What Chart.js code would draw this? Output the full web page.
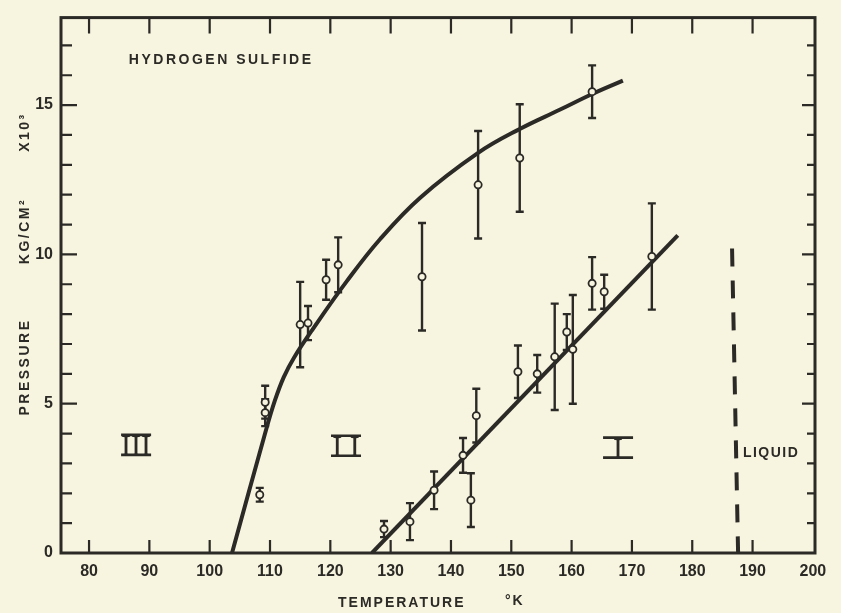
<!DOCTYPE html>
<html>
<head>
<meta charset="utf-8">
<script src="https://cdn.jsdelivr.net/npm/chart.js@4.4.1/dist/chart.umd.min.js"></script>
<style>
html,body{margin:0;padding:0;background:#f7f4df;}
#wrap{width:841px;height:613px;}
</style>
</head>
<body>
<div id="wrap"><canvas id="c" width="841" height="613"></canvas></div>
<script>
// measured points, III -> II transition (temperature K, pressure x10^3 kg/cm2, error)
var t32 = [108.3, 109.2, 109.2, 115.0, 116.3, 119.3, 121.3, 135.2, 144.5, 151.4, 163.4];
var p32 = [1.95, 5.05, 4.7, 7.65, 7.7, 9.15, 9.65, 9.25, 12.33, 13.23, 15.45];
var e32 = [0.23, 0.55, 0.45, 1.43, 0.57, 0.67, 0.92, 1.8, 1.8, 1.8, 0.88];

// measured points, II -> I transition
var t21 = [128.9, 133.2, 137.2, 142.0, 143.3, 144.2, 151.1, 154.3, 157.2, 159.2, 160.2, 163.4, 165.4, 173.3];
var p21 = [0.8, 1.05, 2.1, 3.27, 1.77, 4.6, 6.07, 6.0, 6.57, 7.4, 6.82, 9.03, 8.75, 9.93];
var e21 = [0.27, 0.62, 0.63, 0.58, 0.9, 0.9, 0.88, 0.63, 1.78, 0.6, 1.82, 0.88, 0.57, 1.78];

// drawn curve III-II
var curveT = [103.7, 109.2, 110.8, 112.3, 114.0, 117.1, 122.8, 128.2, 134.9, 144.5, 151.4, 158.1, 163.5, 168.5];
var curveP = [0, 4.02, 5.1, 5.9, 6.55, 7.5, 9.12, 10.5, 11.9, 13.4, 14.2, 14.85, 15.38, 15.82];

// drawn line II-I
var lineT = [126.9, 177.6];
var lineP = [0, 10.64];

// melting boundary (dashed)
var meltT = [186.6, 187.6];
var meltP = [10.2, 0];

var xTicks = [80, 90, 100, 110, 120, 130, 140, 150, 160, 170, 180, 190, 200];
var yTicks = [0, 1, 2, 3, 4, 5, 6, 7, 8, 9, 10, 11, 12, 13, 14, 15, 16, 17];

var paper = '#f7f4df';
var ink = '#2b2a26';

function pts(a, b) {
	var out = [];
	for (var i = 0; i < a.length; i++) out.push({x: a[i], y: b[i]});
	return out;
}

var decor = {
	id: 'decor',
	beforeDraw: function(chart) {
		var ctx = chart.ctx;
		ctx.save();
		ctx.fillStyle = paper;
		ctx.fillRect(0, 0, chart.width, chart.height);
		ctx.restore();
	},
	beforeDatasetsDraw: function(chart) {
		//error bars -start
		var ctx = chart.ctx, xs = chart.scales.x, ys = chart.scales.y;
		ctx.save();
		ctx.strokeStyle = ink;
		ctx.lineWidth = 2.4;
		var groups = [[t32, p32, e32], [t21, p21, e21]];
		groups.forEach(function(g) {
			for (var i = 0; i < g[0].length; i++) {
				var x = xs.getPixelForValue(g[0][i]);
				var y1 = ys.getPixelForValue(g[1][i] - g[2][i]);
				var y2 = ys.getPixelForValue(g[1][i] + g[2][i]);
				ctx.beginPath();
				ctx.moveTo(x, y1); ctx.lineTo(x, y2);
				ctx.moveTo(x - 4, y1); ctx.lineTo(x + 4, y1);
				ctx.moveTo(x - 4, y2); ctx.lineTo(x + 4, y2);
				ctx.stroke();
			}
		});
		ctx.restore();
		//error bars -end
	},
	afterDraw: function(chart) {
		var ctx = chart.ctx, a = chart.chartArea, xs = chart.scales.x, ys = chart.scales.y;
		ctx.save();
		ctx.strokeStyle = ink;
		ctx.fillStyle = ink;
		ctx.lineWidth = 3;
		ctx.strokeRect(a.left, a.top, a.right - a.left, a.bottom - a.top);

		// inward ticks
		ctx.lineWidth = 2.2;
		ctx.beginPath();
		xTicks.forEach(function(v) {
			if (v >= 200) return;
			var x = xs.getPixelForValue(v);
			ctx.moveTo(x, a.bottom); ctx.lineTo(x, a.bottom - 13);
			ctx.moveTo(x, a.top); ctx.lineTo(x, a.top + 16);
		});
		yTicks.forEach(function(v) {
			if (v == 0) return;
			var y = ys.getPixelForValue(v);
			var major = v % 5 == 0;
			ctx.moveTo(a.left, y); ctx.lineTo(a.left + (major ? 16 : 11), y);
			ctx.moveTo(a.right, y); ctx.lineTo(a.right - (major ? 13 : 8), y);
		});
		ctx.stroke();

		// labels inside the plot
		ctx.font = 'bold 14px "Liberation Sans"';
		ctx.textBaseline = 'middle';
		ctx.letterSpacing = '2.5px';
		ctx.textAlign = 'left';
		ctx.fillText('HYDROGEN SULFIDE', xs.getPixelForValue(86.6), ys.getPixelForValue(16.5));
		ctx.letterSpacing = '1.5px';
		ctx.fillText('LIQUID', xs.getPixelForValue(188.4), ys.getPixelForValue(3.36));

		// phase numerals
		var phases = [['III', 87.8, 3.62], ['I I', 122.6, 3.59], ['I', 167.7, 3.53]];
		ctx.letterSpacing = '0px';
		ctx.font = '30px "Liberation Serif"';
		ctx.textAlign = 'center';
		ctx.textBaseline = 'alphabetic';
		ctx.lineWidth = 2.6;
		phases.forEach(function(ph) {
			var x = xs.getPixelForValue(ph[1]), y = ys.getPixelForValue(ph[2]);
			ctx.fillText(ph[0], x, y + 10);
			ctx.beginPath();
			ctx.moveTo(x - 15, y - 10); ctx.lineTo(x + 15, y - 10);
			ctx.moveTo(x - 15, y + 10); ctx.lineTo(x + 15, y + 10);
			ctx.stroke();
		});

		// axis titles
		ctx.font = 'bold 14px "Liberation Sans"';
		ctx.textBaseline = 'middle';
		ctx.letterSpacing = '2px';
		ctx.textAlign = 'left';
		ctx.fillText('TEMPERATURE', 338, 603);
		ctx.fillText('\u00B0K', 505, 601);

		ctx.letterSpacing = '2.5px';
		ctx.translate(25, 0);
		ctx.rotate(-Math.PI / 2);
		ctx.textAlign = 'center';
		ctx.fillText('PRESSURE', -367, 0);
		ctx.fillText('KG/CM\u00B2', -231, 0);
		ctx.fillText('X10\u00B3', -132, 0);
		ctx.restore();
	}
};

$chart = new Chart(document.getElementById('c'), {
	type: 'scatter',
	data: {
		datasets: [
			{
				label: 'III-II points',
				data: pts(t32, p32),
				pointRadius: 3.6,
				pointBackgroundColor: paper,
				pointBorderColor: ink,
				pointBorderWidth: 1.8
			},
			{
				label: 'II-I points',
				data: pts(t21, p21),
				pointRadius: 3.6,
				pointBackgroundColor: paper,
				pointBorderColor: ink,
				pointBorderWidth: 1.8
			},
			{
				label: 'III-II boundary',
				data: pts(curveT, curveP),
				showLine: true,
				tension: 0.4,
				borderColor: ink,
				borderWidth: 4,
				pointRadius: 0
			},
			{
				label: 'II-I boundary',
				data: pts(lineT, lineP),
				showLine: true,
				borderColor: ink,
				borderWidth: 4,
				pointRadius: 0
			},
			{
				label: 'melting',
				data: pts(meltT, meltP),
				showLine: true,
				borderColor: ink,
				borderWidth: 4,
				borderDash: [18, 14],
				pointRadius: 0
			}
		]
	},
	options: {
		responsive: false,
		animation: false,
		layout: { padding: { left: 0, top: 14, right: 26, bottom: 0 } },
		plugins: { legend: { display: false }, tooltip: { enabled: false } },
		scales: {
			x: {
				type: 'linear',
				min: 75.35,
				max: 200.35,
				grid: { display: false, drawTicks: false },
				border: { display: false },
				afterBuildTicks: function(scale) {
					scale.ticks = xTicks.map(function(v) { return { value: v }; });
				},
				afterFit: function(scale) { scale.height = 60; },
				ticks: {
					color: ink,
					padding: 9,
					maxRotation: 0,
					font: { family: 'Liberation Sans', size: 16, weight: 'bold' }
				}
			},
			y: {
				type: 'linear',
				min: 0,
				max: 17.93,
				grid: { display: false, drawTicks: false },
				border: { display: false },
				afterBuildTicks: function(scale) {
					scale.ticks = yTicks.map(function(v) { return { value: v }; });
				},
				afterFit: function(scale) { scale.width = 61; },
				ticks: {
					color: ink,
					padding: 8,
					font: { family: 'Liberation Sans', size: 16, weight: 'bold' },
					callback: function(v) { return v % 5 == 0 ? v : ''; }
				}
			}
		}
	},
	plugins: [decor]
});
</script>
</body>
</html>
